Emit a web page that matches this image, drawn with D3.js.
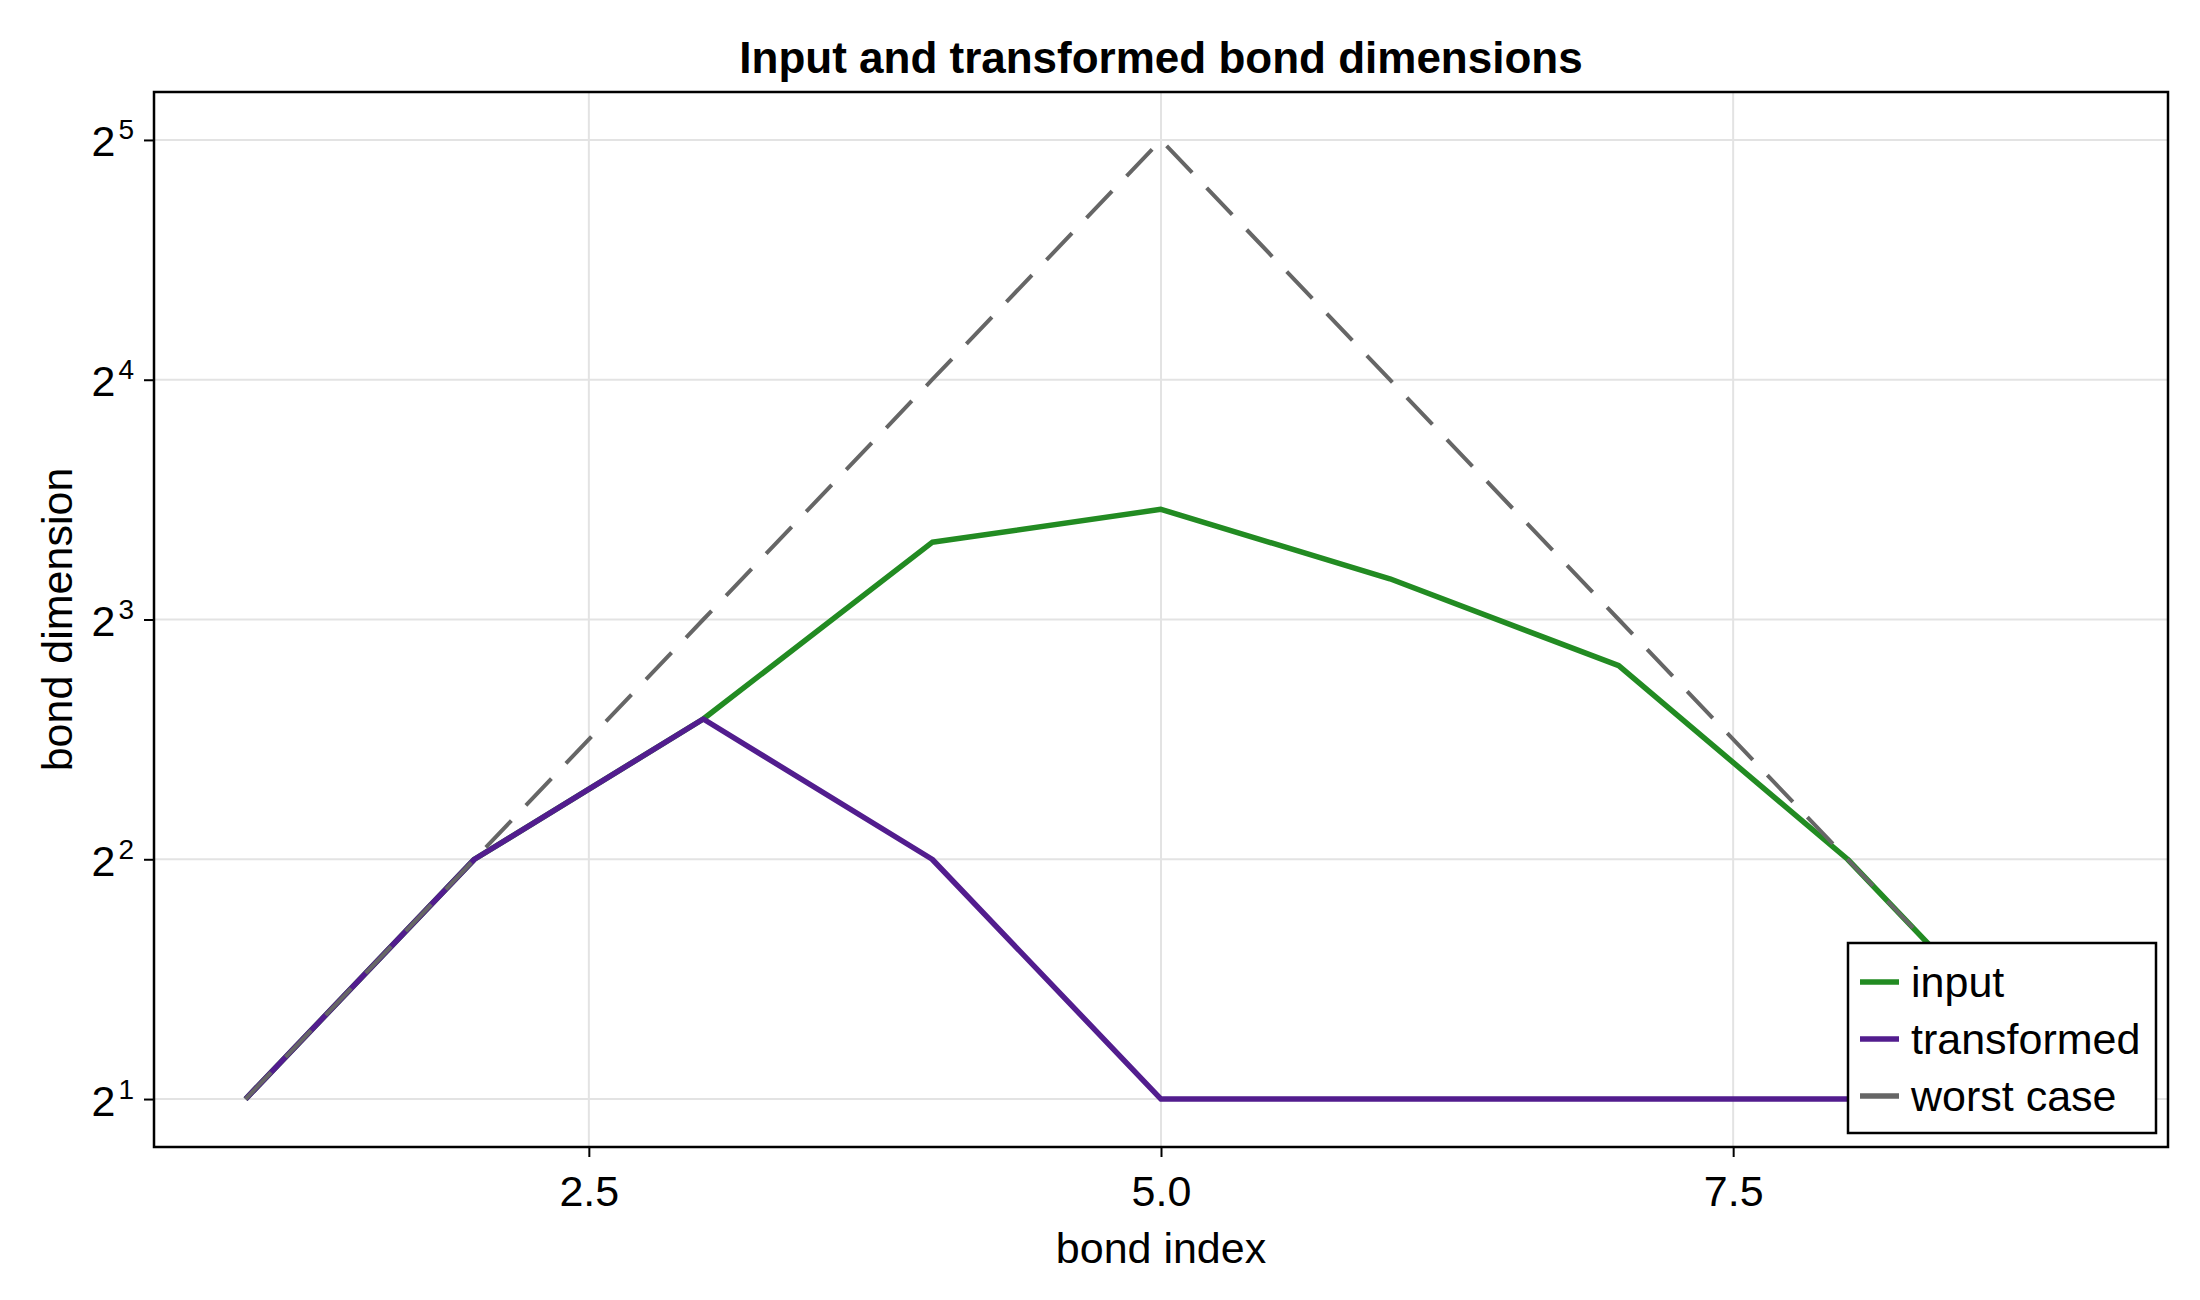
<!DOCTYPE html>
<html>
<head>
<meta charset="utf-8">
<script src="https://cdn.jsdelivr.net/npm/d3@7"></script>
<style>
  body { margin: 0; background: #fff; }
  text { font-family: "Liberation Sans", Arial, sans-serif; }
</style>
</head>
<body>
<div id="chart"></div>
<script>
// bond data
const bondIndex = [1, 2, 3, 4, 5, 6, 7, 8, 9];
const inputDims = [2, 4, 6, 10, 11, 9, 7, 4, 2];
const transformedDims = [2, 4, 6, 4, 2, 2, 2, 2, 2];
const worstCaseDims = [2, 4, 8, 16, 32, 16, 8, 4, 2];

const xTicks = [2.5, 5.0, 7.5];
const yTicks = [2, 4, 8, 16, 32];

const seriesNames = ["input", "transformed", "worst case"];
const seriesColors = ["#228b22", "#521d8e", "#666666"];

const width = 2200;
const height = 1300;
const plot = { left: 154, right: 2168, top: 92, bottom: 1147 };

const svg = d3.select("#chart")
  .append("svg")
  .attr("width", width)
  .attr("height", height);

const x = d3.scaleLinear()
  .domain([0.6, 9.4])
  .range([plot.left, plot.right]);

const y = d3.scaleLog()
  .base(2)
  .domain([Math.pow(2, 0.8), Math.pow(2, 5.2)])
  .range([plot.bottom, plot.top]);

// grid
svg.append("g")
  .selectAll("line")
  .data(xTicks)
  .join("line")
  .attr("x1", d => x(d)).attr("x2", d => x(d))
  .attr("y1", plot.top).attr("y2", plot.bottom)
  .attr("stroke", "#e3e3e3")
  .attr("stroke-width", 2);

svg.append("g")
  .selectAll("line")
  .data(yTicks)
  .join("line")
  .attr("x1", plot.left).attr("x2", plot.right)
  .attr("y1", d => y(d)).attr("y2", d => y(d))
  .attr("stroke", "#e3e3e3")
  .attr("stroke-width", 2);

// lines
const line = d3.line()
  .x((d, i) => x(bondIndex[i]))
  .y(d => y(d));

const series = [inputDims, transformedDims, worstCaseDims];

svg.append("g")
  .selectAll("path")
  .data(series)
  .join("path")
  .attr("d", d => line(d))
  .attr("fill", "none")
  .attr("stroke", (d, i) => seriesColors[i])
  .attr("stroke-width", (d, i) => i === 2 ? 4 : 5.5)
  .attr("stroke-dasharray", (d, i) => i === 2 ? "37,21" : null)
  .attr("stroke-linejoin", "round");

// frame
svg.append("rect")
  .attr("x", plot.left).attr("y", plot.top)
  .attr("width", plot.right - plot.left)
  .attr("height", plot.bottom - plot.top)
  .attr("fill", "none")
  .attr("stroke", "#000")
  .attr("stroke-width", 2.5);

// x axis
const xAxis = svg.append("g")
  .attr("transform", `translate(0,${plot.bottom})`)
  .call(d3.axisBottom(x).tickValues(xTicks).tickFormat(d3.format(".1f")).tickSize(10).tickPadding(18));
xAxis.select(".domain").remove();
xAxis.selectAll(".tick line").attr("stroke", "#000").attr("stroke-width", 2);
xAxis.selectAll(".tick text")
  .attr("font-size", 43)
  .attr("font-family", "Liberation Sans, Arial, sans-serif")
  .attr("fill", "#000");

// y axis, labels as 2 with a superscript exponent
const yAxis = svg.append("g")
  .attr("transform", `translate(${plot.left},0)`)
  .call(d3.axisLeft(y).tickValues(yTicks).tickFormat("").tickSize(10));
yAxis.select(".domain").remove();
yAxis.selectAll(".tick line").attr("stroke", "#000").attr("stroke-width", 2);
yAxis.selectAll(".tick text").remove();
yAxis.selectAll(".tick")
  .append("text")
  .attr("x", -20)
  .attr("y", 16)
  .attr("text-anchor", "end")
  .attr("fill", "#000")
  .attr("font-size", 43)
  .call(t => {
    t.append("tspan").text("2");
    t.append("tspan")
      .attr("font-size", 28)
      .attr("dx", 3)
      .attr("dy", -17)
      .text(d => Math.round(Math.log2(d)));
  });

// titles
svg.append("text")
  .attr("x", (plot.left + plot.right) / 2)
  .attr("y", 73)
  .attr("text-anchor", "middle")
  .attr("font-size", 44)
  .attr("font-weight", "bold")
  .text("Input and transformed bond dimensions");

svg.append("text")
  .attr("x", (plot.left + plot.right) / 2)
  .attr("y", 1263)
  .attr("text-anchor", "middle")
  .attr("font-size", 43)
  .text("bond index");

svg.append("text")
  .attr("transform", `translate(72,${(plot.top + plot.bottom) / 2}) rotate(-90)`)
  .attr("text-anchor", "middle")
  .attr("font-size", 43)
  .text("bond dimension");

// legend
const legend = svg.append("g").attr("transform", "translate(1848,943)");
legend.append("rect")
  .attr("width", 308).attr("height", 190)
  .attr("fill", "#fff")
  .attr("stroke", "#000")
  .attr("stroke-width", 2.5);

const items = legend.selectAll(".legend-item")
  .data(seriesNames)
  .join("g")
  .attr("class", "legend-item")
  .attr("transform", (d, i) => `translate(0,${39 + i * 57})`);

items.append("line")
  .attr("x1", 12).attr("x2", 51)
  .attr("stroke", (d, i) => seriesColors[i])
  .attr("stroke-width", 5.5);

items.append("text")
  .attr("x", 63)
  .attr("y", 15)
  .attr("font-size", 43)
  .text(d => d);
</script>
</body>
</html>
